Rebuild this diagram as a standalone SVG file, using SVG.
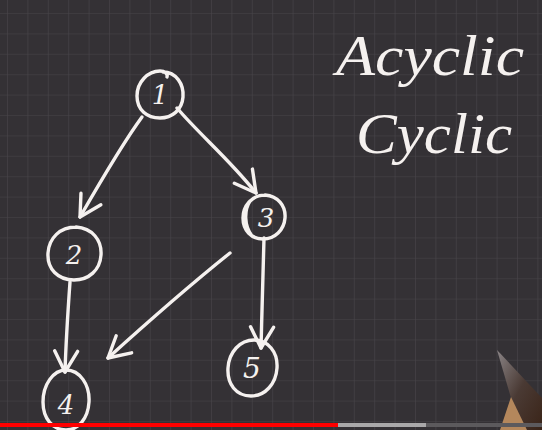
<svg xmlns="http://www.w3.org/2000/svg" width="542" height="430" viewBox="0 0 542 430">
<defs>
<pattern id="grid" width="20.4" height="20.4" patternUnits="userSpaceOnUse" x="7" y="13">
<path d="M0,0 H20.4 M0,0 V20.4" fill="none" stroke="#48454a" stroke-width="1.2"/>
</pattern>
<marker id="vhead" viewBox="-24 -14 28 28" markerWidth="28" markerHeight="28" refX="0" refY="0" orient="auto" markerUnits="userSpaceOnUse">
<path d="M-21,-12 L0,0 L-21,11" fill="none" stroke="#f5f1ef" stroke-width="3.4" stroke-linecap="round" stroke-linejoin="round"/>
</marker>
<linearGradient id="pencil" x1="0" y1="0" x2="1" y2="1">
<stop offset="0" stop-color="#8a8486"/>
<stop offset="0.5" stop-color="#4a3a34"/>
<stop offset="1" stop-color="#3a2418"/>
</linearGradient>
</defs>
<style>
.ink{fill:none;stroke:#f5f1ef;stroke-width:3.4;stroke-linecap:round;stroke-linejoin:round}
.lbl{fill:#f5f1ef;font-family:"DejaVu Serif","Liberation Serif",serif;font-style:italic;text-anchor:middle}
.hand{fill:#f5f1ef;font-family:"Liberation Serif","DejaVu Serif",serif;font-style:italic}
</style>
<rect width="542" height="430" fill="#343135"/>
<rect width="542" height="430" fill="url(#grid)"/>

<g id="connectors">
<path class="ink" d="M142,117 C125,140 110,165 80,217" marker-end="url(#vhead)"/>
<path class="ink" d="M177,108 C200,135 230,160 256,193" marker-end="url(#vhead)"/>
<path class="ink" d="M70,282 C68,310 66,340 65,372" marker-end="url(#vhead)"/>
<path class="ink" d="M264,238 C263,270 262,310 261,348" marker-end="url(#vhead)"/>
<path class="ink" d="M230,253 C190,285 150,320 108,358" marker-end="url(#vhead)"/>
</g>

<g id="node1">
<path class="ink" d="M163,72 C176,72 184,84 183,97 C182,110 172,118 160,118 C147,118 137,110 137,96 C137,82 148,71 160,71 C165,71 168,74 167,77"/>
<text class="lbl" x="160" y="104" font-size="26">1</text>
</g>
<g id="node2">
<path class="ink" d="M76,227 C92,228 102,240 101,255 C100,270 89,280 74,280 C58,280 47,269 48,253 C49,238 60,227 76,227"/>
<text class="lbl" x="74" y="264" font-size="26">2</text>
</g>
<g id="node3">
<path class="ink" d="M265,195 C278,196 286,206 285,218 C284,230 275,239 263,239 C251,239 243,230 243,218 C243,206 252,195 265,195 M250,201 C244,210 244,226 252,236"/>
<text class="lbl" x="266" y="227" font-size="26">3</text>
</g>
<g id="node4">
<path class="ink" d="M66,370 C80,370 90,385 89,402 C88,419 78,430 66,430 C53,430 43,419 43,402 C43,385 53,370 66,370"/>
<text class="lbl" x="66" y="414" font-size="26">4</text>
</g>
<g id="node5">
<path class="ink" d="M254,340 C268,340 278,352 277,368 C276,384 265,396 251,396 C236,396 227,384 228,368 C229,352 240,340 254,340"/>
<text class="lbl" x="252" y="378" font-size="28">5</text>
</g>

<text class="hand" x="336" y="75" font-size="58" textLength="188" lengthAdjust="spacingAndGlyphs">Acyclic</text>
<text class="hand" x="356" y="153" font-size="58" textLength="156" lengthAdjust="spacingAndGlyphs">Cyclic</text>

<polygon points="497,350 542,398 542,430 527,430 511,398" fill="url(#pencil)"/>
<polygon points="511,397 500,430 527,430" fill="#b4875c"/>

<rect x="0" y="423" width="338" height="4" fill="#ff0000"/>
<rect x="338" y="423" width="88" height="4" fill="#a9a8a9"/>
<rect x="426" y="423" width="116" height="4" fill="#5c5a5d"/>
</svg>
